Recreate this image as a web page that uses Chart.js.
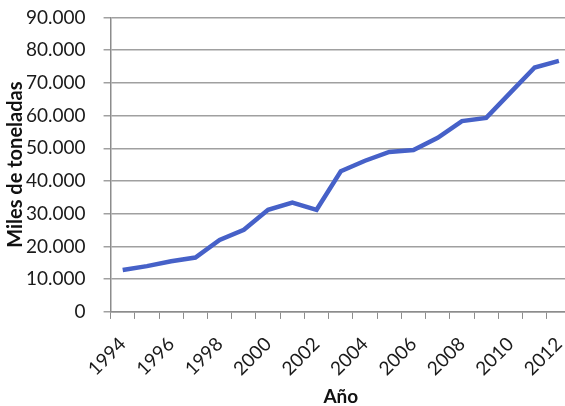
<!DOCTYPE html>
<html>
<head>
<meta charset="utf-8">
<script src="https://cdn.jsdelivr.net/npm/chart.js@4"></script>
<style>
  html, body { margin: 0; padding: 0; background: #fff; overflow: hidden; }
  #wrap { width: 589px; height: 418px; margin-top: -12px; }
</style>
</head>
<body>
<div id="wrap"><canvas id="toneladasChart"></canvas></div>
<script>
const years = ["1994", "1995", "1996", "1997", "1998", "1999", "2000", "2001", "2002", "2003",
  "2004", "2005", "2006", "2007", "2008", "2009", "2010", "2011", "2012"];
const toneladas = [12800, 14000, 15500, 16600, 22000, 25100, 31200, 33400, 31200, 43000,
  46200, 48900, 49500, 53200, 58300, 59300, 67000, 74700, 76700];
const yTicks = [0, 10000, 20000, 30000, 40000, 50000, 60000, 70000, 80000, 90000];

function formatMiles(value) {
  if (value === 0) return "0";
  return (value / 1000).toFixed(0) + ".000";
}

const ctx = document.getElementById("toneladasChart");

new Chart(ctx, {
  type: "line",
  data: {
    labels: years,
    datasets: [{
      label: "Miles de toneladas",
      data: toneladas,
      borderColor: "#4661c8",
      borderWidth: 4.5,
      pointRadius: 0,
      tension: 0,
      fill: false
    }]
  },
  options: {
    responsive: true,
    maintainAspectRatio: false,
    animation: false,
    layout: {
      padding: { top: 0, left: 4, right: 0, bottom: -2 }
    },
    plugins: {
      legend: { display: false },
      tooltip: { enabled: false }
    },
    scales: {
      x: {
        offset: true,
        grid: {
          offset: true,
          drawOnChartArea: false,
          drawTicks: true,
          tickLength: 7,
          color: "#8c8c8c"
        },
        border: { color: "#8c8c8c", width: 1.5 },
        ticks: {
          autoSkip: false,
          maxRotation: 45,
          minRotation: 45,
          color: "#1a1a1a",
          font: { family: "Lato", size: 19 },
          padding: 14,
          callback: function (value, index) {
            return index % 2 === 0 ? years[index] : "";
          }
        },
        title: {
          display: true,
          text: "Año",
          color: "#111",
          font: { family: "Lato", size: 19, weight: "bold" },
          padding: { top: -9, bottom: 0 }
        }
      },
      y: {
        min: 0,
        max: 90000,
        afterBuildTicks: function (axis) {
          axis.ticks = yTicks.map(v => ({ value: v }));
        },
        grid: {
          color: "#a0a0a0",
          lineWidth: 1.5,
          tickLength: 7
        },
        border: { color: "#8c8c8c", width: 1.5 },
        ticks: {
          color: "#1a1a1a",
          font: { family: "Lato", size: 19 },
          padding: 18,
          callback: function (value) {
            return formatMiles(value);
          }
        },
        title: {
          display: true,
          text: "Miles de toneladas",
          color: "#111",
          font: { family: "Lato", size: 20, weight: "bold" },
          padding: { top: 0, bottom: -20 }
        }
      }
    }
  }
});
</script>
</body>
</html>
